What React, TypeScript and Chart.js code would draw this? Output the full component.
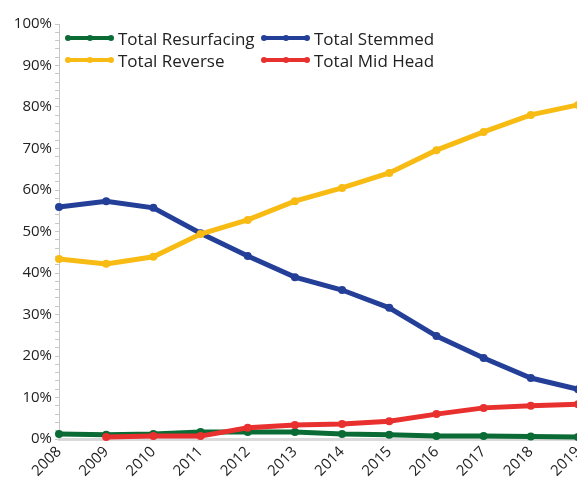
import React, { useEffect, useRef } from "react";
import { Chart, registerables } from "chart.js";

Chart.register(...registerables);

const years = ["2008", "2009", "2010", "2011", "2012", "2013", "2014", "2015", "2016", "2017", "2018", "2019"];
const resurfacing = [1.2, 1.0, 1.2, 1.7, 1.7, 1.7, 1.2, 1.0, 0.7, 0.7, 0.6, 0.5];
const stemmed = [55.9, 57.3, 55.7, 49.6, 44.1, 39.0, 35.9, 31.6, 24.8, 19.5, 14.7, 12.0];
const reverse = [43.4, 42.2, 43.9, 49.4, 52.8, 57.3, 60.5, 64.1, 69.6, 74.0, 78.1, 80.5];
const midHead = [null, 0.5, 0.7, 0.7, 2.7, 3.4, 3.6, 4.3, 6.0, 7.5, 8.0, 8.4];

const seriesNames = ["Total Resurfacing", "Total Stemmed", "Total Reverse", "Total Mid Head"];
const seriesColors = ["#0a6b34", "#243f98", "#f8bb14", "#e8302e"];

const FONT = "'Open Sans', 'Noto Sans', sans-serif";

function LegendItem({ name, color, left, top }: { name: string; color: string; left: number; top: number }) {
  return (
    <div style={{ position: "absolute", left, top, height: 22, display: "flex", alignItems: "center", whiteSpace: "nowrap" }}>
      <div style={{ position: "relative", width: 45, height: 22, marginRight: 6 }}>
        <div style={{ position: "absolute", left: 0, right: 0, top: 9, height: 4, background: color }} />
        {[1, 23, 44].map((x) => (
          <div key={x} style={{ position: "absolute", left: x - 3, top: 8, width: 6, height: 6, borderRadius: "50%", background: color }} />
        ))}
      </div>
      <span style={{ fontFamily: FONT, fontSize: 17, color: "#222" }}>{name}</span>
    </div>
  );
}

export default function App() {
  const ref = useRef<HTMLCanvasElement | null>(null);
  useEffect(() => {
    if (!ref.current) return;
    const data = [resurfacing, stemmed, reverse, midHead];
    const orders = [3, 2, 1, 0];
    const chart = new Chart(ref.current, {
      type: "line",
      data: {
        labels: years,
        datasets: seriesNames.map((name, i) => ({
          label: name,
          data: data[i] as any,
          borderColor: seriesColors[i],
          backgroundColor: seriesColors[i],
          borderWidth: 5,
          pointRadius: 4,
          pointBorderWidth: 0,
          pointBackgroundColor: seriesColors[i],
          tension: 0,
          clip: false as any,
          order: orders[i],
        })),
      },
      options: {
        animation: false,
        responsive: false,
        maintainAspectRatio: false,
        layout: { padding: { top: 24, right: 2, left: 0, bottom: 0 } },
        plugins: { legend: { display: false }, tooltip: { enabled: false } },
        scales: {
          x: {
            type: "category",
            offset: false,
            grid: { display: false, drawTicks: false },
            border: { display: true, color: "#d9d9d9", width: 3 },
            ticks: {
              minRotation: 45,
              maxRotation: 45,
              autoSkip: false,
              padding: 4,
              color: "#222",
              font: { family: FONT, size: 15 },
            },
            afterFit: (s: any) => {
              s.paddingRight = 0;
              s.paddingLeft = 0;
              s.height = 43;
            },
          },
          y: {
            min: 0,
            max: 100,
            grid: { drawOnChartArea: false, drawTicks: true, tickLength: 4, color: "#c8c8c8" },
            border: { display: true, color: "#c8c8c8", width: 1 },
            ticks: {
              stepSize: 2,
              autoSkip: false,
              padding: 3,
              color: "#222",
              font: { family: FONT, size: 15 },
              callback: (v: any) => (Number(v) % 10 === 0 ? v + "%" : ""),
            },
            afterFit: (s: any) => {
              s.width = 59;
            },
          },
        },
      },
    });
    return () => chart.destroy();
  }, []);

  return (
    <div style={{ position: "fixed", left: 0, top: 0, width: 577, height: 482, overflow: "hidden", background: "#fff" }}>
      <canvas ref={ref} width={582} height={482} style={{ width: 582, height: 482, display: "block" }} />
      <LegendItem name={seriesNames[0]} color={seriesColors[0]} left={67} top={27} />
      <LegendItem name={seriesNames[1]} color={seriesColors[1]} left={263} top={27} />
      <LegendItem name={seriesNames[2]} color={seriesColors[2]} left={67} top={49} />
      <LegendItem name={seriesNames[3]} color={seriesColors[3]} left={263} top={49} />
    </div>
  );
}
